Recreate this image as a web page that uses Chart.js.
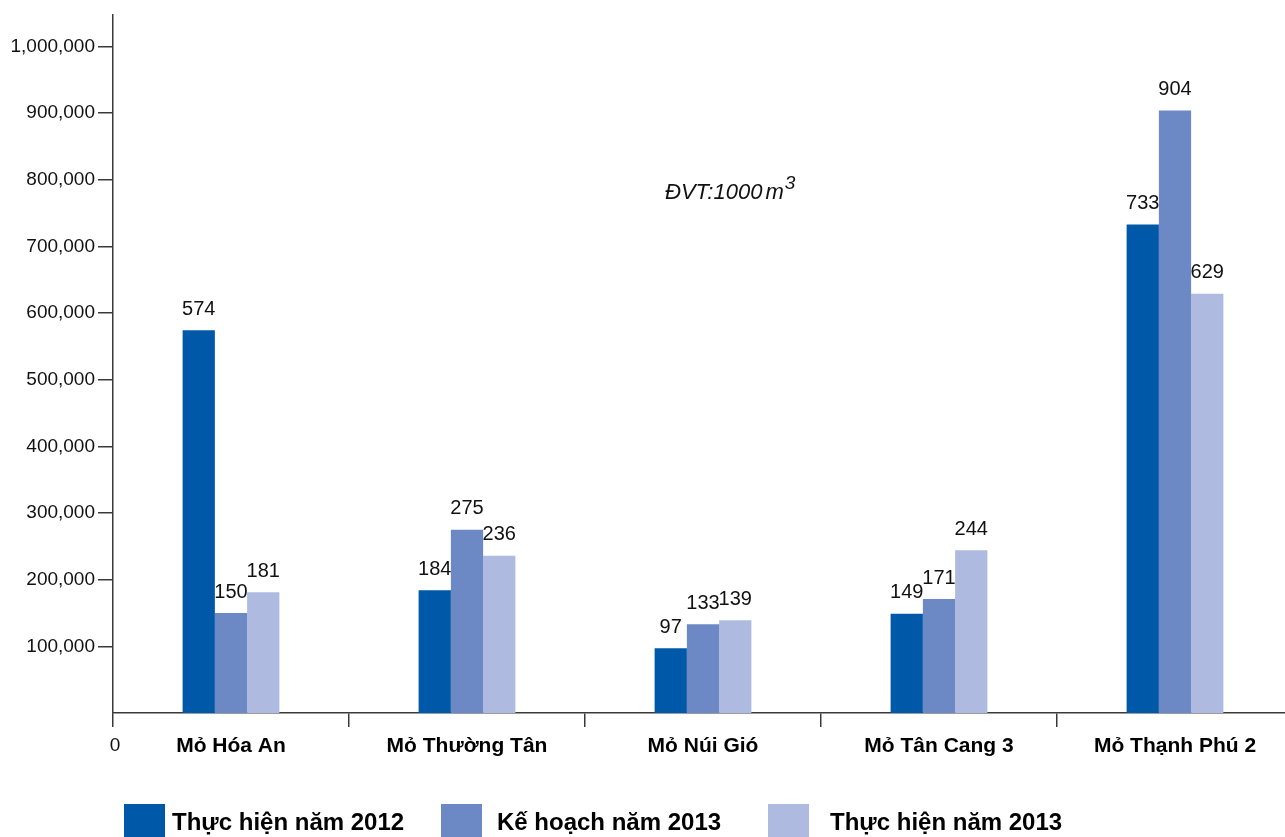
<!DOCTYPE html>
<html>
<head>
<meta charset="utf-8">
<script src="https://cdn.jsdelivr.net/npm/chart.js@4/dist/chart.umd.min.js"></script>
<style>
  html, body { margin: 0; padding: 0; background: #fff; overflow: hidden; }
  #wrap { width: 1293px; height: 837px; }
</style>
</head>
<body>
<div id="wrap"><canvas id="c" width="1293" height="837"></canvas></div>
<script>
// Sản lượng khai thác theo mỏ (đơn vị: 1000 m³)
const categories = ['Mỏ Hóa An', 'Mỏ Thường Tân', 'Mỏ Núi Gió', 'Mỏ Tân Cang 3', 'Mỏ Thạnh Phú 2'];
const seriesNames = ['Thực hiện năm 2012', 'Kế hoạch năm 2013', 'Thực hiện năm 2013'];
const thucHien2012 = [574, 184, 97, 149, 733];
const keHoach2013 = [150, 275, 133, 171, 904];
const thucHien2013 = [181, 236, 139, 244, 629];
const yTicks = [100000, 200000, 300000, 400000, 500000, 600000, 700000, 800000, 900000, 1000000];
const unitLabel = 'ĐVT:1000';

const colors = ['#0059A8', '#6D89C5', '#AEBAE0'];
const FONT = '"Liberation Sans", Arial, sans-serif';

const toVolume = arr => arr.map(v => v * 1000);

// Value labels above each bar, plus the unit note, origin "0" and the legend row
const annotations = {
  id: 'annotations',
  afterDatasetsDraw(chart) {
    const ctx = chart.ctx;
    ctx.save();
    ctx.fillStyle = '#111';
    ctx.font = '20px ' + FONT;
    ctx.textAlign = 'center';
    ctx.textBaseline = 'middle';
    chart.data.datasets.forEach((ds, i) => {
      chart.getDatasetMeta(i).data.forEach((bar, j) => {
        ctx.fillText(String(ds.rawValues[j]), bar.x, bar.y - 21);
      });
    });
    ctx.restore();
  },
  afterDraw(chart) {
    const ctx = chart.ctx;
    const area = chart.chartArea;
    ctx.save();

    // unit note
    ctx.fillStyle = '#111';
    ctx.textBaseline = 'alphabetic';
    ctx.textAlign = 'left';
    ctx.font = 'italic 22px ' + FONT;
    const ux = 665, uy = 199;
    ctx.fillText(unitLabel, ux, uy);
    let w = ctx.measureText(unitLabel).width + 3;
    ctx.fillText('m', ux + w, uy);
    w += ctx.measureText('m').width + 1;
    ctx.font = 'italic 19px ' + FONT;
    ctx.fillText('3', ux + w, uy - 10);

    // origin label
    ctx.font = '19px ' + FONT;
    ctx.textAlign = 'center';
    ctx.textBaseline = 'middle';
    ctx.fillText('0', area.left + 2, 746);

    // legend
    const boxX = [124, 441, 768];
    const textX = [172, 497, 830];
    ctx.textAlign = 'left';
    ctx.font = 'bold 24px ' + FONT;
    seriesNames.forEach((name, i) => {
      ctx.fillStyle = colors[i];
      ctx.fillRect(boxX[i], 804, 41, 34);
      ctx.fillStyle = '#000';
      ctx.fillText(name, textX[i], 823);
    });
    ctx.restore();
  }
};

new Chart(document.getElementById('c'), {
  type: 'bar',
  data: {
    labels: categories,
    datasets: [thucHien2012, keHoach2013, thucHien2013].map((vals, i) => ({
      label: seriesNames[i],
      data: toVolume(vals),
      rawValues: vals,
      backgroundColor: colors[i],
      borderWidth: 0,
      categoryPercentage: 0.41,
      barPercentage: 1.0
    }))
  },
  options: {
    responsive: false,
    animation: false,
    layout: { padding: { top: 12, right: 0, left: 0, bottom: 0 } },
    plugins: {
      legend: { display: false },
      tooltip: { enabled: false }
    },
    scales: {
      x: {
        offset: true,
        border: { display: true, color: '#3a3a3a', width: 1.5 },
        grid: {
          offset: true,
          drawOnChartArea: false,
          drawTicks: true,
          tickLength: 14,
          color: '#3a3a3a',
          lineWidth: 1.5
        },
        ticks: {
          color: '#000',
          padding: 7,
          font: { family: FONT, size: 21, weight: 'bold' }
        },
        afterFit(scale) { scale.height = 124; }
      },
      y: {
        min: 0,
        max: 1048000,
        border: { display: true, color: '#3a3a3a', width: 1.5 },
        grid: {
          drawOnChartArea: false,
          drawTicks: true,
          tickLength: 15,
          color: '#3a3a3a',
          lineWidth: 1.5
        },
        afterBuildTicks(scale) {
          scale.ticks = yTicks.map(v => ({ value: v }));
        },
        ticks: {
          color: '#111',
          padding: 3,
          font: { family: FONT, size: 19 },
          callback: v => v.toLocaleString('en-US')
        },
        afterFit(scale) { scale.width = 113; }
      }
    }
  },
  plugins: [annotations]
});
</script>
</body>
</html>
